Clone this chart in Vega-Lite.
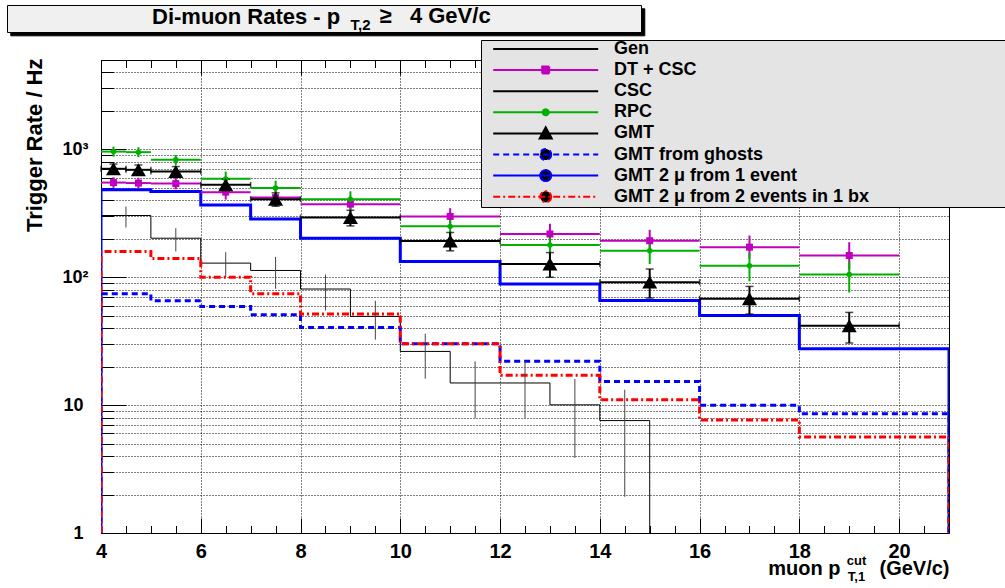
{
  "$schema": "https://vega.github.io/schema/vega-lite/v6.json",
  "autosize": "none",
  "width": 848,
  "height": 473,
  "padding": {"left": 101, "top": 60, "right": 56, "bottom": 55},
  "background": "white",
  "config": {
    "font": "Liberation Sans",
    "view": {"stroke": "black", "strokeWidth": 1}
  },
  "title": {
    "text": "Di-muon Rates - p",
    "anchor": "start",
    "frame": "group",
    "dx": 51,
    "dy": 24,
    "offset": 0,
    "font": "Liberation Sans",
    "fontWeight": "bold",
    "fontSize": 22,
    "color": "black"
  },
  "datasets": {
    "hist": [
      {"s": "Gen", "x": 4, "v": 1, "i": 0},
      {"s": "Gen", "x": 4, "v": 304, "i": 1},
      {"s": "Gen", "x": 5, "v": 202, "i": 2},
      {"s": "Gen", "x": 6, "v": 129, "i": 3},
      {"s": "Gen", "x": 7, "v": 113, "i": 4},
      {"s": "Gen", "x": 8, "v": 80.9, "i": 5},
      {"s": "Gen", "x": 9, "v": 49.4, "i": 6},
      {"s": "Gen", "x": 10, "v": 26.3, "i": 7},
      {"s": "Gen", "x": 11, "v": 14.9, "i": 8},
      {"s": "Gen", "x": 12, "v": 14.9, "i": 9},
      {"s": "Gen", "x": 13, "v": 10.05, "i": 10},
      {"s": "Gen", "x": 14, "v": 7.57, "i": 11},
      {"s": "Gen", "x": 15, "v": 1, "i": 12},
      {"s": "GMT 2 μ from 1 event", "x": 4, "v": 1, "i": 0},
      {"s": "GMT 2 μ from 1 event", "x": 4, "v": 483, "i": 1},
      {"s": "GMT 2 μ from 1 event", "x": 5, "v": 468, "i": 2},
      {"s": "GMT 2 μ from 1 event", "x": 6, "v": 367, "i": 3},
      {"s": "GMT 2 μ from 1 event", "x": 7, "v": 286, "i": 4},
      {"s": "GMT 2 μ from 1 event", "x": 8, "v": 202, "i": 5},
      {"s": "GMT 2 μ from 1 event", "x": 10, "v": 133, "i": 6},
      {"s": "GMT 2 μ from 1 event", "x": 12, "v": 88.5, "i": 7},
      {"s": "GMT 2 μ from 1 event", "x": 14, "v": 65.9, "i": 8},
      {"s": "GMT 2 μ from 1 event", "x": 16, "v": 50.3, "i": 9},
      {"s": "GMT 2 μ from 1 event", "x": 18, "v": 27.6, "i": 10},
      {"s": "GMT 2 μ from 1 event", "x": 21, "v": 27.6, "i": 11},
      {"s": "GMT 2 μ from 1 event", "x": 21, "v": 1, "i": 12},
      {"s": "GMT from ghosts", "x": 4, "v": 1, "i": 0},
      {"s": "GMT from ghosts", "x": 4, "v": 74.3, "i": 1},
      {"s": "GMT from ghosts", "x": 5, "v": 65.5, "i": 2},
      {"s": "GMT from ghosts", "x": 6, "v": 59.1, "i": 3},
      {"s": "GMT from ghosts", "x": 7, "v": 50.9, "i": 4},
      {"s": "GMT from ghosts", "x": 8, "v": 40.5, "i": 5},
      {"s": "GMT from ghosts", "x": 10, "v": 30.2, "i": 6},
      {"s": "GMT from ghosts", "x": 12, "v": 22.0, "i": 7},
      {"s": "GMT from ghosts", "x": 14, "v": 15.3, "i": 8},
      {"s": "GMT from ghosts", "x": 16, "v": 9.96, "i": 9},
      {"s": "GMT from ghosts", "x": 18, "v": 8.58, "i": 10},
      {"s": "GMT from ghosts", "x": 21, "v": 8.58, "i": 11},
      {"s": "GMT from ghosts", "x": 21, "v": 1, "i": 12},
      {"s": "GMT 2 μ from 2 events in 1 bx", "x": 4, "v": 1, "i": 0},
      {"s": "GMT 2 μ from 2 events in 1 bx", "x": 4, "v": 159, "i": 1},
      {"s": "GMT 2 μ from 2 events in 1 bx", "x": 5, "v": 140, "i": 2},
      {"s": "GMT 2 μ from 2 events in 1 bx", "x": 6, "v": 100, "i": 3},
      {"s": "GMT 2 μ from 2 events in 1 bx", "x": 7, "v": 74.3, "i": 4},
      {"s": "GMT 2 μ from 2 events in 1 bx", "x": 8, "v": 51.6, "i": 5},
      {"s": "GMT 2 μ from 2 events in 1 bx", "x": 10, "v": 30.2, "i": 6},
      {"s": "GMT 2 μ from 2 events in 1 bx", "x": 12, "v": 17.1, "i": 7},
      {"s": "GMT 2 μ from 2 events in 1 bx", "x": 14, "v": 11.0, "i": 8},
      {"s": "GMT 2 μ from 2 events in 1 bx", "x": 16, "v": 7.66, "i": 9},
      {"s": "GMT 2 μ from 2 events in 1 bx", "x": 18, "v": 5.64, "i": 10},
      {"s": "GMT 2 μ from 2 events in 1 bx", "x": 21, "v": 5.64, "i": 11},
      {"s": "GMT 2 μ from 2 events in 1 bx", "x": 21, "v": 1, "i": 12}
    ],
    "pts": [
      {"s": "DT + CSC", "xc": 4.25, "x0": 4, "x1": 4.5, "v": 550, "lo": 500, "hi": 605},
      {"s": "DT + CSC", "xc": 4.75, "x0": 4.5, "x1": 5, "v": 545, "lo": 495, "hi": 600},
      {"s": "DT + CSC", "xc": 5.5, "x0": 5, "x1": 6, "v": 540, "lo": 488, "hi": 597},
      {"s": "DT + CSC", "xc": 6.5, "x0": 6, "x1": 7, "v": 463, "lo": 405, "hi": 530},
      {"s": "DT + CSC", "xc": 7.5, "x0": 7, "x1": 8, "v": 420, "lo": 365, "hi": 482},
      {"s": "DT + CSC", "xc": 9, "x0": 8, "x1": 10, "v": 373, "lo": 322, "hi": 428},
      {"s": "DT + CSC", "xc": 11, "x0": 10, "x1": 12, "v": 299, "lo": 250, "hi": 347},
      {"s": "DT + CSC", "xc": 13, "x0": 12, "x1": 14, "v": 218, "lo": 183, "hi": 262},
      {"s": "DT + CSC", "xc": 15, "x0": 14, "x1": 16, "v": 193, "lo": 159, "hi": 235},
      {"s": "DT + CSC", "xc": 17, "x0": 16, "x1": 18, "v": 172, "lo": 140, "hi": 212},
      {"s": "DT + CSC", "xc": 19, "x0": 18, "x1": 20, "v": 148, "lo": 115, "hi": 188},
      {"s": "RPC", "xc": 4.25, "x0": 4, "x1": 4.5, "v": 961, "lo": 879, "hi": 1052},
      {"s": "RPC", "xc": 4.75, "x0": 4.5, "x1": 5, "v": 951, "lo": 870, "hi": 1040},
      {"s": "RPC", "xc": 5.5, "x0": 5, "x1": 6, "v": 828, "lo": 755, "hi": 905},
      {"s": "RPC", "xc": 6.5, "x0": 6, "x1": 7, "v": 588, "lo": 512, "hi": 671},
      {"s": "RPC", "xc": 7.5, "x0": 7, "x1": 8, "v": 498, "lo": 441, "hi": 568},
      {"s": "RPC", "xc": 9, "x0": 8, "x1": 10, "v": 408, "lo": 338, "hi": 470},
      {"s": "RPC", "xc": 11, "x0": 10, "x1": 12, "v": 250, "lo": 208, "hi": 292},
      {"s": "RPC", "xc": 13, "x0": 12, "x1": 14, "v": 179, "lo": 150, "hi": 215},
      {"s": "RPC", "xc": 15, "x0": 14, "x1": 16, "v": 161, "lo": 127, "hi": 202},
      {"s": "RPC", "xc": 17, "x0": 16, "x1": 18, "v": 123, "lo": 93, "hi": 155},
      {"s": "RPC", "xc": 19, "x0": 18, "x1": 20, "v": 105, "lo": 76, "hi": 133},
      {"s": "GMT", "xc": 4.25, "x0": 4, "x1": 4.5, "v": 705, "lo": 642, "hi": 768},
      {"s": "GMT", "xc": 4.75, "x0": 4.5, "x1": 5, "v": 692, "lo": 630, "hi": 755},
      {"s": "GMT", "xc": 5.5, "x0": 5, "x1": 6, "v": 671, "lo": 608, "hi": 734},
      {"s": "GMT", "xc": 6.5, "x0": 6, "x1": 7, "v": 528, "lo": 472, "hi": 584},
      {"s": "GMT", "xc": 7.5, "x0": 7, "x1": 8, "v": 408, "lo": 359, "hi": 457},
      {"s": "GMT", "xc": 9, "x0": 8, "x1": 10, "v": 293, "lo": 252, "hi": 334},
      {"s": "GMT", "xc": 11, "x0": 10, "x1": 12, "v": 192, "lo": 161, "hi": 224},
      {"s": "GMT", "xc": 13, "x0": 12, "x1": 14, "v": 127, "lo": 100, "hi": 156},
      {"s": "GMT", "xc": 15, "x0": 14, "x1": 16, "v": 91.6, "lo": 68.8, "hi": 116},
      {"s": "GMT", "xc": 17, "x0": 16, "x1": 18, "v": 67.9, "lo": 51.6, "hi": 84.8},
      {"s": "GMT", "xc": 19, "x0": 18, "x1": 20, "v": 41.8, "lo": 30.6, "hi": 53.1}
    ],
    "generr": [
      {"xc": 4.5, "lo": 245, "hi": 357},
      {"xc": 5.5, "lo": 159, "hi": 242},
      {"xc": 6.5, "lo": 101, "hi": 157},
      {"xc": 7.5, "lo": 81.3, "hi": 144},
      {"xc": 8.5, "lo": 55, "hi": 105},
      {"xc": 9.5, "lo": 32.5, "hi": 65.5},
      {"xc": 10.5, "lo": 16.1, "hi": 36.2},
      {"xc": 11.5, "lo": 7.9, "hi": 22},
      {"xc": 12.5, "lo": 7.9, "hi": 22},
      {"xc": 13.5, "lo": 3.87, "hi": 16},
      {"xc": 14.5, "lo": 1.92, "hi": 13.2}
    ]
  },
  "resolve": {"axis": {"x": "independent", "y": "independent"}},
  "layer": [
    {
      "data": {"name": "pts"},
      "transform": [{"filter": "false"}],
      "mark": {"type": "point"},
      "encoding": {
        "size": {"datum": "a", "type": "ordinal", "scale": {"domain": ["a"], "range": [4, 4]},
          "legend": {"title": null, "orient": "none", "legendX": -90.7, "legendY": -51.7, "fillColor": "black", "strokeColor": "black", "padding": 0, "symbolType": "M0,0L633,26", "symbolOpacity": 0, "symbolStrokeWidth": 0, "symbolOffset": 0, "labelOffset": 0, "labelFontSize": 1, "labelExpr": "''"}}
      }
    },
    {
      "data": {"name": "pts"},
      "transform": [{"filter": "false"}],
      "mark": {"type": "point"},
      "encoding": {
        "strokeWidth": {"datum": "b", "type": "ordinal", "scale": {"domain": ["b"], "range": [0, 0]},
          "legend": {"title": null, "orient": "none", "legendX": 390, "legendY": -14, "fillColor": "black", "strokeColor": "black", "padding": 0, "symbolType": "M0,0L620,167", "symbolSize": 4, "symbolOpacity": 0, "symbolOffset": 0, "labelOffset": 0, "labelFontSize": 1, "labelExpr": "''"}}
      }
    },
    {
      "data": {"name": "pts"},
      "transform": [{"filter": "false"}],
      "mark": {"type": "point"},
      "encoding": {
        "opacity": {"datum": "c", "type": "ordinal", "scale": {"domain": ["c"], "range": [1, 1]},
          "legend": {"title": null, "orient": "none", "legendX": -94, "legendY": -55, "fillColor": "#f0f0f0", "strokeColor": "black", "padding": 0, "symbolType": "M0,0L633,26", "symbolSize": 4, "symbolOpacity": 0, "symbolFillColor": "transparent", "symbolStrokeColor": "transparent", "symbolStrokeWidth": 0, "symbolOffset": 0, "labelOffset": 0, "labelFontSize": 1, "labelExpr": "''"}}
      }
    },
    {
      "data": {"name": "pts"},
      "transform": [{"filter": "false"}],
      "mark": {"type": "point", "filled": true, "strokeWidth": 2, "opacity": 1},
      "encoding": {
        "fill": {"field": "s", "type": "nominal",
          "scale": {"domain": ["Gen", "DT + CSC", "CSC", "RPC", "GMT", "GMT from ghosts", "GMT 2 μ from 1 event", "GMT 2 μ from 2 events in 1 bx"],
                    "range": ["black", "#bf00bf", "black", "#00b000", "black", "black", "black", "black"]},
          "legend": {"title": null, "orient": "none", "legendX": 380, "legendY": -20, "direction": "vertical", "fillColor": "#e4e4e4", "strokeColor": "black", "padding": 0, "cornerRadius": 0, "labelFont": "Liberation Sans", "labelFontWeight": "bold", "labelFontSize": 18, "labelColor": "black", "labelLimit": 0, "symbolSize": 100, "symbolStrokeWidth": 2, "symbolOffset": 55.7, "labelOffset": 59.3, "rowPadding": 1.1, "symbolLimit": 0}},
        "stroke": {"field": "s", "type": "nominal",
          "scale": {"domain": ["Gen", "DT + CSC", "CSC", "RPC", "GMT", "GMT from ghosts", "GMT 2 μ from 1 event", "GMT 2 μ from 2 events in 1 bx"],
                    "range": ["black", "#bf00bf", "black", "#00b000", "black", "#0000ff", "#0000ff", "#ff0000"]},
          "legend": {"title": null, "orient": "none", "legendX": 380, "legendY": -20, "direction": "vertical", "fillColor": "#e4e4e4", "strokeColor": "black", "padding": 0, "cornerRadius": 0, "labelFont": "Liberation Sans", "labelFontWeight": "bold", "labelFontSize": 18, "labelColor": "black", "labelLimit": 0, "symbolSize": 100, "symbolStrokeWidth": 2, "symbolOffset": 55.7, "labelOffset": 59.3, "rowPadding": 1.1, "symbolLimit": 0}},
        "shape": {"field": "s", "type": "nominal",
          "scale": {"domain": ["Gen", "DT + CSC", "CSC", "RPC", "GMT", "GMT from ghosts", "GMT 2 μ from 1 event", "GMT 2 μ from 2 events in 1 bx"],
                    "range": ["M-10.5,0H10.5M0,-1.2M0,1.2M95,0", "M-10.5,0H10.5M-0.7,-0.7H0.7V0.7H-0.7ZM0,-1.2M0,1.2", "M-10.5,0H10.5M0,-1.2M0,1.2", "M-10.5,0H10.5M0.6,0A0.6,0.6,0,1,1,-0.6,0A0.6,0.6,0,1,1,0.6,0ZM0,-1.2M0,1.2", "M-10.5,0H10.5M0,-1.2L1.2,1L-1.2,1ZM0,1.2", "M-10.5,0H10.5M1.1,0A1.1,1.1,0,1,1,-1.1,0A1.1,1.1,0,1,1,1.1,0ZM0,-1.2M0,1.2", "M-10.5,0H10.5M1.1,0A1.1,1.1,0,1,1,-1.1,0A1.1,1.1,0,1,1,1.1,0ZM0,-1.2M0,1.2", "M-10.5,0H10.5M1.1,0A1.1,1.1,0,1,1,-1.1,0A1.1,1.1,0,1,1,1.1,0ZM0,-1.2M0,1.2"]},
          "legend": {"title": null, "orient": "none", "legendX": 380, "legendY": -20, "direction": "vertical", "fillColor": "#e4e4e4", "strokeColor": "black", "padding": 0, "cornerRadius": 0, "labelFont": "Liberation Sans", "labelFontWeight": "bold", "labelFontSize": 18, "labelColor": "black", "labelLimit": 0, "symbolSize": 100, "symbolStrokeWidth": 2, "symbolOffset": 55.7, "labelOffset": 59.3, "rowPadding": 1.1, "symbolLimit": 0}},
        "strokeDash": {"field": "s", "type": "nominal",
          "scale": {"domain": ["Gen", "DT + CSC", "CSC", "RPC", "GMT", "GMT from ghosts", "GMT 2 μ from 1 event", "GMT 2 μ from 2 events in 1 bx"],
                    "range": [[1, 0], [1, 0], [1, 0], [1, 0], [1, 0], [6, 4], [1, 0], [7, 3, 2, 3]]},
          "legend": {"title": null, "orient": "none", "legendX": 380, "legendY": -20, "direction": "vertical", "fillColor": "#e4e4e4", "strokeColor": "black", "padding": 0, "cornerRadius": 0, "labelFont": "Liberation Sans", "labelFontWeight": "bold", "labelFontSize": 18, "labelColor": "black", "labelLimit": 0, "symbolSize": 100, "symbolStrokeWidth": 2, "symbolOffset": 55.7, "labelOffset": 59.3, "rowPadding": 1.1, "symbolLimit": 0}}
      }
    },
    {
      "data": {"name": "hist"},
      "transform": [{"filter": "datum.s === 'Gen'"}],
      "mark": {"type": "line", "interpolate": "step-after", "strokeWidth": 1, "color": "black", "clip": true},
      "encoding": {
        "x": {"field": "x", "type": "quantitative", "scale": {"domain": [4, 21], "nice": false, "zero": false},
          "axis": {"orient": "bottom", "values": [4, 6, 8, 10, 12, 14, 16, 18, 20], "tickSize": -15, "tickColor": "black", "tickWidth": 1, "domain": true, "domainColor": "black", "domainWidth": 1, "labels": true, "labelFont": "Liberation Sans", "labelFontWeight": "bold", "labelFontSize": 20, "labelColor": "black", "labelPadding": 23, "labelFlush": false, "labelOverlap": false, "labelBound": false, "grid": true, "gridColor": "black", "gridDash": [1, 2], "gridWidth": 1, "gridOpacity": 1, "title": "muon p", "titleFont": "Liberation Sans", "titleFontWeight": "bold", "titleFontSize": 20, "titleColor": "black", "titleX": 739, "titleY": 41, "titleAlign": "right", "titleBaseline": "alphabetic", "titleAngle": 0}},
        "y": {"field": "v", "type": "quantitative", "scale": {"type": "log", "domain": [1, 5000], "nice": false},
          "axis": {"orient": "left", "values": [1, 10, 100, 1000], "tickSize": -25, "tickColor": "black", "tickWidth": 1, "domain": true, "domainColor": "black", "labelExpr": "datum.value == 1 ? '1\u00a0\u200b' : datum.value == 10 ? '10\u00a0\u200b' : datum.value == 100 ? '10²' : '10³'", "labelFont": "Liberation Sans", "labelFontWeight": "bold", "labelFontSize": 18, "labelColor": "black", "labelPadding": 38, "labelFlush": false, "labelOverlap": false, "labelBound": false, "grid": true, "gridColor": "black", "gridDash": [1, 2], "gridWidth": 1, "gridOpacity": 1, "title": "Trigger Rate / Hz", "titleFont": "Liberation Sans", "titleFontWeight": "bold", "titleFontSize": 22, "titleColor": "black", "titleX": -67, "titleY": -2, "titleAngle": 270, "titleAlign": "right", "titleBaseline": "middle"}},
        "order": {"field": "i", "type": "quantitative"}
      }
    },
    {
      "data": {"name": "hist"},
      "transform": [{"filter": "datum.s === 'GMT 2 μ from 1 event'"}],
      "mark": {"type": "line", "interpolate": "step-after", "strokeWidth": 3, "color": "#0000ff", "clip": true},
      "encoding": {
        "x": {"field": "x", "type": "quantitative", "scale": {"domain": [4, 21], "nice": false, "zero": false},
          "axis": {"orient": "bottom", "values": [4.5, 5, 5.5, 6.5, 7, 7.5, 8.5, 9, 9.5, 10.5, 11, 11.5, 12.5, 13, 13.5, 14.5, 15, 15.5, 16.5, 17, 17.5, 18.5, 19, 19.5, 20.5], "tickSize": -7.5, "tickColor": "black", "tickWidth": 1, "domain": false, "labels": false, "grid": false, "title": "T,1", "titleFont": "Liberation Sans", "titleFontWeight": "bold", "titleFontSize": 13, "titleColor": "black", "titleX": 755, "titleY": 47, "titleAlign": "center", "titleBaseline": "alphabetic", "titleAngle": 0}},
        "y": {"field": "v", "type": "quantitative", "scale": {"type": "log", "domain": [1, 5000], "nice": false},
          "axis": {"orient": "left", "values": [2, 3, 4, 5, 6, 7, 8, 9, 20, 30, 40, 50, 60, 70, 80, 90, 200, 300, 400, 500, 600, 700, 800, 900, 2000, 3000, 4000], "tickSize": -12.5, "tickColor": "black", "tickWidth": 1, "domain": false, "labels": false, "grid": true, "gridColor": "black", "gridDash": [1, 2], "gridWidth": 1, "gridOpacity": 1, "title": null}},
        "order": {"field": "i", "type": "quantitative"}
      }
    },
    {
      "data": {"name": "hist"},
      "transform": [{"filter": "datum.s === 'GMT from ghosts'"}],
      "mark": {"type": "line", "interpolate": "step-after", "strokeWidth": 3, "strokeDash": [6, 4], "color": "#0000ff", "clip": true},
      "encoding": {
        "x": {"field": "x", "type": "quantitative", "scale": {"domain": [4, 21], "nice": false, "zero": false},
          "axis": {"orient": "top", "values": [4, 6, 8, 10, 12, 14, 16, 18, 20], "tickSize": -15, "tickColor": "black", "tickWidth": 1, "domain": false, "labels": false, "grid": false, "title": "cut", "titleFont": "Liberation Sans", "titleFontWeight": "bold", "titleFontSize": 13, "titleColor": "black", "titleX": 755, "titleY": 504, "titleAlign": "center", "titleBaseline": "alphabetic", "titleAngle": 0}},
        "y": {"field": "v", "type": "quantitative", "scale": {"type": "log", "domain": [1, 5000], "nice": false}, "axis": null},
        "order": {"field": "i", "type": "quantitative"}
      }
    },
    {
      "data": {"name": "hist"},
      "transform": [{"filter": "datum.s === 'GMT 2 μ from 2 events in 1 bx'"}],
      "mark": {"type": "line", "interpolate": "step-after", "strokeWidth": 3, "strokeDash": [7, 3, 2, 3], "color": "#ff0000", "clip": true},
      "encoding": {
        "x": {"field": "x", "type": "quantitative", "scale": {"domain": [4, 21], "nice": false, "zero": false},
          "axis": {"orient": "top", "values": [4.5, 5, 5.5, 6.5, 7, 7.5, 8.5, 9, 9.5, 10.5, 11, 11.5, 12.5, 13, 13.5, 14.5, 15, 15.5, 16.5, 17, 17.5, 18.5, 19, 19.5, 20.5], "tickSize": -7.5, "tickColor": "black", "tickWidth": 1, "domain": false, "labels": false, "grid": false, "title": "(GeV/c)", "titleFont": "Liberation Sans", "titleFontWeight": "bold", "titleFontSize": 20, "titleColor": "black", "titleX": 848, "titleY": 514, "titleAlign": "right", "titleBaseline": "alphabetic", "titleAngle": 0}},
        "y": {"field": "v", "type": "quantitative", "scale": {"type": "log", "domain": [1, 5000], "nice": false}, "axis": null},
        "order": {"field": "i", "type": "quantitative"}
      }
    },
    {
      "data": {"name": "generr"},
      "mark": {"type": "rule", "strokeWidth": 1, "color": "#444444", "clip": true},
      "encoding": {
        "x": {"field": "xc", "type": "quantitative", "scale": {"domain": [4, 21], "nice": false, "zero": false}, "axis": null},
        "y": {"field": "lo", "type": "quantitative", "scale": {"type": "log", "domain": [1, 5000], "nice": false},
          "axis": {"orient": "right", "ticks": false, "labels": false, "domain": false, "grid": false, "zindex": 2, "title": "T,2", "titleFont": "Liberation Sans", "titleFontWeight": "bold", "titleFontSize": 15, "titleColor": "black", "titleX": -599, "titleY": -31, "titleAlign": "left", "titleBaseline": "alphabetic", "titleAngle": 0}},
        "y2": {"field": "hi"}
      }
    },
    {
      "data": {"name": "pts"},
      "mark": {"type": "rule", "strokeWidth": 2},
      "encoding": {
        "x": {"field": "x0", "type": "quantitative", "scale": {"domain": [4, 21], "nice": false, "zero": false}, "axis": null},
        "x2": {"field": "x1"},
        "y": {"field": "v", "type": "quantitative", "scale": {"type": "log", "domain": [1, 5000], "nice": false},
          "axis": {"orient": "right", "ticks": false, "labels": false, "domain": false, "grid": false, "zindex": 2, "title": "≥\u00a0\u00a0\u00a04 GeV/c", "titleFont": "Liberation Sans", "titleFontWeight": "bold", "titleFontSize": 22, "titleColor": "black", "titleX": -570, "titleY": -37.3, "titleAlign": "left", "titleBaseline": "alphabetic", "titleAngle": 0}},
        "color": {"field": "s", "type": "nominal", "scale": {"domain": ["DT + CSC", "RPC", "GMT"], "range": ["#bf00bf", "#00b000", "black"]}, "legend": null}
      }
    },
    {
      "data": {"name": "pts"},
      "mark": {"type": "rule", "strokeWidth": 2},
      "encoding": {
        "x": {"field": "xc", "type": "quantitative", "scale": {"domain": [4, 21], "nice": false, "zero": false}, "axis": null},
        "y": {"field": "lo", "type": "quantitative", "scale": {"type": "log", "domain": [1, 5000], "nice": false}, "axis": null},
        "y2": {"field": "hi"},
        "color": {"field": "s", "type": "nominal", "scale": {"domain": ["DT + CSC", "RPC", "GMT"], "range": ["#bf00bf", "#00b000", "black"]}, "legend": null}
      }
    },
    {
      "data": {"name": "pts"},
      "transform": [{"filter": "datum.s === 'GMT'"}],
      "mark": {"type": "tick", "orient": "horizontal", "size": 8, "thickness": 1.5, "color": "black"},
      "encoding": {
        "x": {"field": "xc", "type": "quantitative", "scale": {"domain": [4, 21], "nice": false, "zero": false}, "axis": null},
        "y": {"field": "lo", "type": "quantitative", "scale": {"type": "log", "domain": [1, 5000], "nice": false}, "axis": null}
      }
    },
    {
      "data": {"name": "pts"},
      "transform": [{"filter": "datum.s === 'GMT'"}],
      "mark": {"type": "tick", "orient": "horizontal", "size": 8, "thickness": 1.5, "color": "black"},
      "encoding": {
        "x": {"field": "xc", "type": "quantitative", "scale": {"domain": [4, 21], "nice": false, "zero": false}, "axis": null},
        "y": {"field": "hi", "type": "quantitative", "scale": {"type": "log", "domain": [1, 5000], "nice": false}, "axis": null}
      }
    },
    {
      "data": {"name": "pts"},
      "transform": [{"filter": "datum.s === 'GMT'"}],
      "mark": {"type": "tick", "orient": "vertical", "size": 6, "thickness": 1.5, "color": "black"},
      "encoding": {
        "x": {"field": "x0", "type": "quantitative", "scale": {"domain": [4, 21], "nice": false, "zero": false}, "axis": null},
        "y": {"field": "v", "type": "quantitative", "scale": {"type": "log", "domain": [1, 5000], "nice": false}, "axis": null}
      }
    },
    {
      "data": {"name": "pts"},
      "transform": [{"filter": "datum.s === 'GMT'"}],
      "mark": {"type": "tick", "orient": "vertical", "size": 6, "thickness": 1.5, "color": "black"},
      "encoding": {
        "x": {"field": "x1", "type": "quantitative", "scale": {"domain": [4, 21], "nice": false, "zero": false}, "axis": null},
        "y": {"field": "v", "type": "quantitative", "scale": {"type": "log", "domain": [1, 5000], "nice": false}, "axis": null}
      }
    },
    {
      "data": {"name": "pts"},
      "transform": [{"filter": "datum.s === 'DT + CSC'"}],
      "mark": {"type": "point", "shape": "square", "filled": true, "size": 49, "color": "#bf00bf", "opacity": 1},
      "encoding": {
        "x": {"field": "xc", "type": "quantitative", "scale": {"domain": [4, 21], "nice": false, "zero": false}, "axis": null},
        "y": {"field": "v", "type": "quantitative", "scale": {"type": "log", "domain": [1, 5000], "nice": false}, "axis": null}
      }
    },
    {
      "data": {"name": "pts"},
      "transform": [{"filter": "datum.s === 'RPC'"}],
      "mark": {"type": "point", "shape": "circle", "filled": true, "size": 30, "color": "#00b000", "opacity": 1},
      "encoding": {
        "x": {"field": "xc", "type": "quantitative", "scale": {"domain": [4, 21], "nice": false, "zero": false}, "axis": null},
        "y": {"field": "v", "type": "quantitative", "scale": {"type": "log", "domain": [1, 5000], "nice": false}, "axis": null}
      }
    },
    {
      "data": {"name": "pts"},
      "transform": [{"filter": "datum.s === 'GMT'"}],
      "mark": {"type": "point", "shape": "triangle-up", "filled": true, "size": 225, "color": "black", "opacity": 1},
      "encoding": {
        "x": {"field": "xc", "type": "quantitative", "scale": {"domain": [4, 21], "nice": false, "zero": false}, "axis": null},
        "y": {"field": "v", "type": "quantitative", "scale": {"type": "log", "domain": [1, 5000], "nice": false}, "axis": null}
      }
    }
  ]
}
